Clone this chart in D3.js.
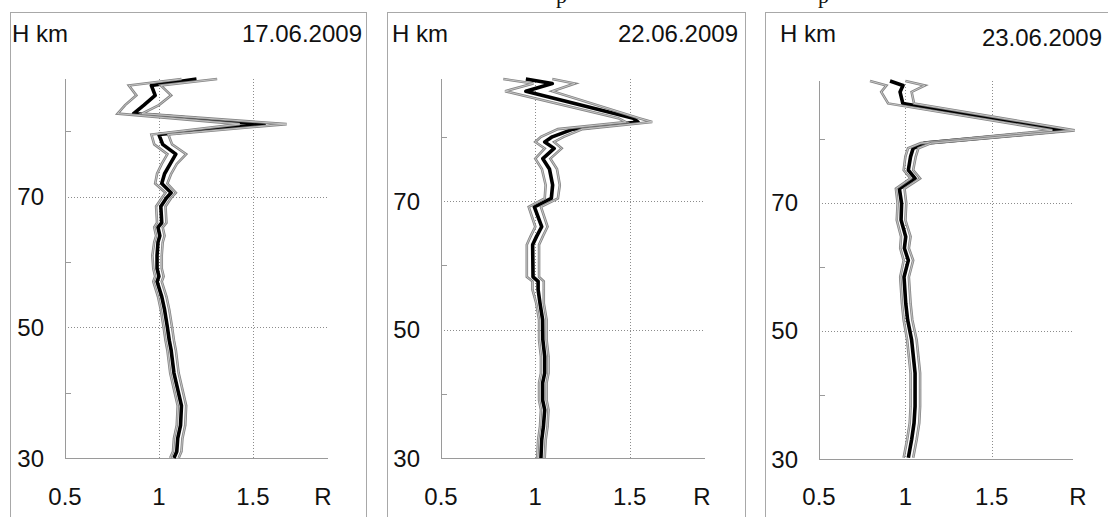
<!DOCTYPE html>
<html>
<head>
<meta charset="utf-8">
<script src="https://cdn.jsdelivr.net/npm/d3@7"></script>
<style>
  body { margin: 0; background: #fff; }
  svg { display: block; }
</style>
</head>
<body>
<svg id="drawing_region"></svg>
<script>
// ---- data (H in km, R ratio) ----
const dates = ["17.06.2009", "22.06.2009", "23.06.2009"];
const yTicks = [30, 50, 70];
const yMinor = [40, 60, 80];
const xTicks = [0.5, 1, 1.5];
const xGrid = [1, 1.5];

const h1 = [30, 31, 33, 35, 38, 40.5, 43, 46.5, 48, 50, 52.7, 54.7, 57, 57.8, 59, 61, 63, 64, 65.3, 66, 68.5, 69.8, 70.6, 72, 73.5, 75, 76.5, 78, 79.5, 81.1, 82.7, 84, 85.5, 87, 88];
const mean1 = [1.08, 1.095, 1.10, 1.115, 1.12, 1.10, 1.08, 1.065, 1.055, 1.045, 1.03, 1.015, 0.99, 1.00, 0.99, 0.99, 0.995, 1.005, 0.995, 1.015, 1.01, 1.04, 1.065, 1.015, 1.03, 1.06, 1.09, 1.02, 1.00, 1.56, 0.865, 0.92, 0.98, 0.96, 1.20];
const lo1 = [1.06, 1.075, 1.08, 1.095, 1.10, 1.08, 1.06, 1.045, 1.035, 1.025, 1.01, 0.995, 0.97, 0.98, 0.97, 0.965, 0.975, 0.985, 0.975, 0.99, 0.985, 1.015, 1.035, 0.98, 0.99, 1.015, 1.045, 0.975, 0.96, 1.43, 0.78, 0.82, 0.88, 0.84, 1.12];
const hi1 = [1.105, 1.12, 1.125, 1.14, 1.145, 1.125, 1.105, 1.09, 1.08, 1.07, 1.055, 1.04, 1.015, 1.025, 1.015, 1.015, 1.02, 1.03, 1.02, 1.04, 1.035, 1.065, 1.09, 1.045, 1.065, 1.095, 1.145, 1.07, 1.05, 1.68, 0.91, 1.00, 1.065, 1.01, 1.31];

const h2 = [30, 32.8, 34.9, 37.5, 39, 41.7, 43.2, 45.8, 48.4, 51.5, 54.1, 56.2, 57.5, 58.2, 63.2, 64.5, 66, 69.1, 70.4, 72.5, 75, 76.6, 78.2, 79.2, 80, 81.2, 82.3, 82.9, 87.1, 88.3, 89];
const mean2 = [1.03, 1.034, 1.043, 1.05, 1.039, 1.039, 1.05, 1.05, 1.04, 1.039, 1.025, 1.015, 1.015, 0.988, 0.986, 1.007, 1.034, 0.995, 1.085, 1.092, 1.075, 1.04, 1.10, 1.05, 1.09, 1.20, 1.545, 1.52, 0.95, 1.09, 0.95];
const lo2 = [1.01, 1.015, 1.025, 1.03, 1.02, 1.02, 1.03, 1.03, 1.02, 1.02, 1.005, 0.985, 0.985, 0.955, 0.955, 0.975, 1.0, 0.965, 1.05, 1.055, 1.035, 1.0, 1.05, 1.0, 1.03, 1.12, 1.48, 1.44, 0.84, 0.99, 0.83];
const hi2 = [1.05, 1.055, 1.065, 1.07, 1.06, 1.06, 1.07, 1.07, 1.06, 1.06, 1.045, 1.045, 1.045, 1.02, 1.02, 1.04, 1.065, 1.03, 1.12, 1.13, 1.115, 1.08, 1.14, 1.10, 1.15, 1.25, 1.62, 1.55, 1.09, 1.21, 1.09];

const h3 = [30.2, 33, 35.6, 38.2, 40.8, 43.4, 46, 48.6, 51.7, 54.3, 58.4, 61, 62.9, 64.7, 67.3, 69.9, 72.2, 73.8, 75.1, 77.2, 78.5, 79.3, 81.3, 85.5, 87.3, 88.3, 89];
const mean3 = [1.017, 1.036, 1.05, 1.056, 1.056, 1.056, 1.046, 1.036, 1.013, 1.002, 0.992, 1.017, 0.994, 1.002, 0.975, 0.978, 0.965, 1.056, 1.017, 1.03, 1.045, 1.11, 1.93, 0.985, 0.969, 0.986, 0.911];
const lo3 = [0.99, 1.01, 1.025, 1.03, 1.03, 1.03, 1.02, 1.01, 0.99, 0.98, 0.97, 0.99, 0.97, 0.975, 0.95, 0.955, 0.945, 1.03, 0.99, 1.0, 1.015, 1.09, 1.85, 0.90, 0.86, 0.89, 0.795];
const hi3 = [1.045, 1.065, 1.08, 1.085, 1.085, 1.085, 1.075, 1.065, 1.04, 1.03, 1.02, 1.045, 1.02, 1.03, 1.0, 1.005, 0.995, 1.085, 1.045, 1.06, 1.075, 1.15, 1.98, 1.05, 1.036, 1.113, 1.00];

// ---- layout ----
const font = "'Liberation Sans', Arial, sans-serif";
const panels = [
  { h: h1, mean: mean1, lo: lo1, hi: hi1, frameX: 10, frameW: 356, left: 65, right: 328, top: 79, bottom: 458,
    xDom: [0.5, 1.9], yDom: [30, 88], hkmX: 12, dateX: 362, dateY: 42, rX: 323 },
  { h: h2, mean: mean2, lo: lo2, hi: hi2, frameX: 387, frameW: 358, left: 441, right: 705, top: 79, bottom: 458,
    xDom: [0.5, 1.9], yDom: [30, 89], hkmX: 392, dateX: 738, dateY: 42, rX: 702 },
  { h: h3, mean: mean3, lo: lo3, hi: hi3, frameX: 765, frameW: 370, left: 819, right: 1073, top: 81, bottom: 459,
    xDom: [0.5, 1.97], yDom: [30, 89], hkmX: 780, dateX: 1102, dateY: 46, rX: 1078 }
];

const svg = d3.select('#drawing_region')
  .attr('width', 1108)
  .attr('height', 517);

// cut-off caption above the panels
svg.selectAll('text.cap')
  .data([556, 818])
  .enter()
  .append('text')
  .attr('x', d => d)
  .attr('y', 3)
  .attr('font-family', "'Liberation Serif', serif")
  .attr('font-size', 22)
  .attr('fill', '#111')
  .text('p');

panels.forEach((p, i) => {
  const g = svg.append('g');

  const x = d3.scaleLinear().domain(p.xDom).range([p.left, p.right]);
  const y = d3.scaleLinear().domain(p.yDom).range([p.bottom, p.top]);

  g.append('rect')
    .attr('x', p.frameX + 0.5)
    .attr('y', 12.5)
    .attr('width', p.frameW)
    .attr('height', 600)
    .attr('fill', 'none')
    .attr('stroke', '#a8a8a8');

  // dotted grid
  g.selectAll('line.hg')
    .data(yTicks.slice(1))
    .enter()
    .append('line')
    .attr('x1', p.left).attr('x2', p.right)
    .attr('y1', d => Math.round(y(d)) + 0.5).attr('y2', d => Math.round(y(d)) + 0.5)
    .attr('stroke', '#8c8c8c')
    .attr('stroke-dasharray', '1,2');

  g.selectAll('line.vg')
    .data(xGrid)
    .enter()
    .append('line')
    .attr('x1', d => Math.round(x(d)) + 0.5).attr('x2', d => Math.round(x(d)) + 0.5)
    .attr('y1', p.top).attr('y2', p.bottom)
    .attr('stroke', '#8c8c8c')
    .attr('stroke-dasharray', '1,2');

  // axes
  g.append('line')
    .attr('x1', p.left + 0.5).attr('x2', p.left + 0.5)
    .attr('y1', p.top).attr('y2', p.bottom + 0.5)
    .attr('stroke', '#9a9a9a');
  g.append('line')
    .attr('x1', p.left).attr('x2', p.right)
    .attr('y1', p.bottom + 0.5).attr('y2', p.bottom + 0.5)
    .attr('stroke', '#9a9a9a');

  g.selectAll('line.minor')
    .data(yMinor)
    .enter()
    .append('line')
    .attr('x1', p.left).attr('x2', p.left + 6)
    .attr('y1', d => Math.round(y(d)) + 0.5).attr('y2', d => Math.round(y(d)) + 0.5)
    .attr('stroke', '#9a9a9a');

  // tick labels
  g.selectAll('text.yl')
    .data(yTicks)
    .enter()
    .append('text')
    .attr('x', p.left - 21)
    .attr('y', d => y(d) + 8.5)
    .attr('text-anchor', 'end')
    .attr('font-family', font)
    .attr('font-size', 24)
    .attr('fill', '#111')
    .text(d => d);

  g.selectAll('text.xl')
    .data(xTicks)
    .enter()
    .append('text')
    .attr('x', d => x(d))
    .attr('y', 505)
    .attr('text-anchor', 'middle')
    .attr('font-family', font)
    .attr('font-size', 24)
    .attr('fill', '#111')
    .text(d => d);

  g.append('text')
    .attr('x', p.rX)
    .attr('y', 505)
    .attr('text-anchor', 'middle')
    .attr('font-family', font)
    .attr('font-size', 24)
    .attr('fill', '#111')
    .text('R');

  g.append('text')
    .attr('x', p.hkmX)
    .attr('y', 42)
    .attr('font-family', font)
    .attr('font-size', 24)
    .attr('fill', '#111')
    .text('H km');

  g.append('text')
    .attr('x', p.dateX)
    .attr('y', p.dateY)
    .attr('text-anchor', 'end')
    .attr('font-family', font)
    .attr('font-size', 24)
    .attr('fill', '#111')
    .text(dates[i]);

  // profiles
  const line = d3.line()
    .x(d => x(d[1]))
    .y(d => y(d[0]));

  const meanPts = p.h.map((h, k) => [h, p.mean[k]]);
  const loPts = p.h.map((h, k) => [h, p.lo[k]]);
  const hiPts = p.h.map((h, k) => [h, p.hi[k]]);

  g.append('path')
    .attr('d', line(meanPts))
    .attr('fill', 'none')
    .attr('stroke', '#000')
    .attr('stroke-width', 3.6)
    .attr('stroke-linejoin', 'round');

  [loPts, hiPts].forEach(pts => {
    g.append('path')
      .attr('d', line(pts))
      .attr('fill', 'none')
      .attr('stroke', '#858585')
      .attr('stroke-width', 2.6)
      .attr('stroke-linejoin', 'miter');
    g.append('path')
      .attr('d', line(pts))
      .attr('fill', 'none')
      .attr('stroke', '#d4d4d4')
      .attr('stroke-width', 0.8);
  });
});
</script>
</body>
</html>
